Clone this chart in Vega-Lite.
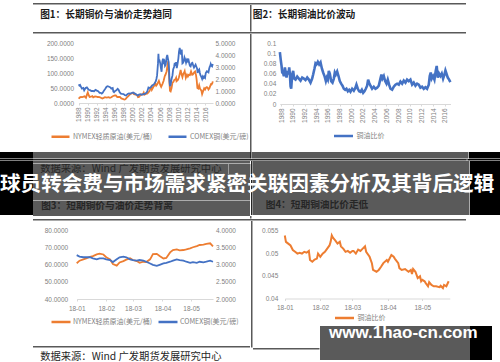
{
"$schema":"https://vega.github.io/schema/vega-lite/v6.json",
"background":"#ffffff",
"padding":0,
"data":{"values":[{}]},
"config":{"view":{"stroke":null},"concat":{"spacing":0},"font":"Noto Sans CJK SC","axis":{"labelOverlap":false}},
"spacing":0,
"resolve":{"scale":{"color":"independent"},"legend":{"color":"independent"}},
"vconcat":[
 {"width":500,"height":2.5,"mark":{"type":"text","text":"","fontSize":0,"clip":true}},
 {"spacing":0,"hconcat":[
  {"width":33,"height":1.5,"mark":{"type":"text","text":"","fontSize":0,"clip":true}},
  {"width":433,"height":1.5,"mark":{"type":"text","text":"","fontSize":0,"clip":true},"view":{"fill":"#595959"}},
  {"width":34,"height":1.5,"mark":{"type":"text","text":"","fontSize":0,"clip":true}}]},
 {"spacing":0,"hconcat":[
  {"width":33,"height":26.5,"mark":{"type":"text","text":"","fontSize":0,"clip":true}},
  {"spacing":0,"vconcat":[
   {"width":146,"height":20,"data":{"values":[{"label":"图1：长期铜价与油价走势趋同"}]},"mark":{"type":"text","baseline":"middle","fontSize":9.7,"fontWeight":"bold","color":"#1a1a1a","clip":true},"encoding":{"text":{"field":"label"}}},
   {"width":146,"height":6.5,"mark":{"type":"text","text":"","fontSize":0,"clip":true}}]},
  {"width":71,"height":26.5,"mark":{"type":"text","text":"","fontSize":0,"clip":true}},
  {"width":1.5,"height":26.5,"mark":{"type":"text","text":"","fontSize":0,"clip":true},"view":{"fill":"#595959"}},
  {"spacing":0,"vconcat":[
   {"width":104,"height":20,"data":{"values":[{"label":"图2：长期铜油比价波动"}]},"mark":{"type":"text","baseline":"middle","fontSize":9.7,"fontWeight":"bold","color":"#1a1a1a","clip":true},"encoding":{"text":{"field":"label"}}},
   {"width":104,"height":6.5,"mark":{"type":"text","text":"","fontSize":0,"clip":true}}]},
  {"width":144.5,"height":26.5,"mark":{"type":"text","text":"","fontSize":0,"clip":true}}]},
 {"spacing":0,"hconcat":[
  {"width":33,"height":1.5,"mark":{"type":"text","text":"","fontSize":0,"clip":true}},
  {"width":433,"height":1.5,"mark":{"type":"text","text":"","fontSize":0,"clip":true},"view":{"fill":"#595959"}},
  {"width":34,"height":1.5,"mark":{"type":"text","text":"","fontSize":0,"clip":true}}]},
 {"spacing":0,
  "resolve":{"scale":{"color":"independent"},"legend":{"color":"independent"}},
  "hconcat":[
  {"width":33,"height":118,"mark":{"type":"text","text":"","fontSize":0,"clip":true}},
  {"width":217,"height":118,
   "layer":[
    {"data":{"values":[{"t":1988.05,"v":14},{"t":1988.25,"v":18},{"t":1988.55,"v":20},{"t":1988.85,"v":19.5},{"t":1989.15,"v":21},{"t":1989.35,"v":22},{"t":1989.65,"v":17.5},{"t":1989.85,"v":27},{"t":1990.05,"v":35},{"t":1990.25,"v":26},{"t":1990.45,"v":20},{"t":1990.75,"v":21},{"t":1991.05,"v":23},{"t":1991.25,"v":19},{"t":1991.65,"v":22},{"t":1991.95,"v":21.5},{"t":1992.25,"v":20},{"t":1992.65,"v":19.5},{"t":1993.05,"v":16.5},{"t":1993.25,"v":15},{"t":1993.55,"v":17},{"t":1993.85,"v":19.5},{"t":1994.25,"v":18},{"t":1994.65,"v":19.5},{"t":1994.95,"v":17.5},{"t":1995.25,"v":19},{"t":1995.55,"v":22.5},{"t":1996.05,"v":25},{"t":1996.25,"v":25},{"t":1996.55,"v":20},{"t":1996.85,"v":20},{"t":1997.15,"v":20.5},{"t":1997.45,"v":15.5},{"t":1997.75,"v":14},{"t":1998.15,"v":11.5},{"t":1998.35,"v":12.5},{"t":1998.65,"v":18},{"t":1998.95,"v":22},{"t":1999.25,"v":27},{"t":1999.45,"v":30},{"t":1999.95,"v":33},{"t":2000.15,"v":34},{"t":2000.25,"v":29},{"t":2000.65,"v":28},{"t":2000.95,"v":26},{"t":2001.15,"v":19.5},{"t":2001.35,"v":20},{"t":2001.65,"v":26},{"t":2001.95,"v":28.5},{"t":2002.2,"v":29},{"t":2002.4,"v":35},{"t":2002.55,"v":28},{"t":2002.85,"v":30.5},{"t":2003.15,"v":31.5},{"t":2003.35,"v":34},{"t":2003.65,"v":39},{"t":2004.05,"v":53},{"t":2004.2,"v":44},{"t":2004.55,"v":54},{"t":2004.85,"v":60},{"t":2004.95,"v":65},{"t":2005.15,"v":58},{"t":2005.35,"v":62},{"t":2005.75,"v":74},{"t":2006.05,"v":60},{"t":2006.25,"v":54},{"t":2006.55,"v":64},{"t":2006.8,"v":74},{"t":2007.05,"v":90},{"t":2007.2,"v":94},{"t":2007.45,"v":105},{"t":2007.65,"v":125},{"t":2007.75,"v":134},{"t":2007.8,"v":140},{"t":2007.95,"v":104},{"t":2008.05,"v":76},{"t":2008.2,"v":41},{"t":2008.35,"v":39},{"t":2008.55,"v":50},{"t":2008.75,"v":68},{"t":2008.95,"v":70},{"t":2009.15,"v":77},{"t":2009.35,"v":78},{"t":2009.55,"v":84},{"t":2009.65,"v":73},{"t":2009.95,"v":77},{"t":2010.15,"v":84},{"t":2010.25,"v":90},{"t":2010.45,"v":103},{"t":2010.55,"v":110},{"t":2010.75,"v":96},{"t":2010.95,"v":86},{"t":2011.15,"v":98},{"t":2011.35,"v":102},{"t":2011.45,"v":106},{"t":2011.7,"v":84},{"t":2011.95,"v":94},{"t":2012.15,"v":88},{"t":2012.35,"v":94},{"t":2012.6,"v":93},{"t":2012.85,"v":105},{"t":2013.1,"v":94},{"t":2013.25,"v":95},{"t":2013.55,"v":102},{"t":2013.75,"v":105},{"t":2013.95,"v":93},{"t":2014.1,"v":76},{"t":2014.25,"v":50},{"t":2014.45,"v":48},{"t":2014.65,"v":59},{"t":2014.85,"v":47},{"t":2014.95,"v":45},{"t":2015.15,"v":41},{"t":2015.3,"v":30},{"t":2015.55,"v":41},{"t":2015.75,"v":49},{"t":2015.95,"v":45},{"t":2016.15,"v":51},{"t":2016.35,"v":53},{"t":2016.55,"v":50},{"t":2016.7,"v":45},{"t":2016.9,"v":49},{"t":2017.1,"v":57},{"t":2017.25,"v":63},{"t":2017.4,"v":62},{"t":2017.55,"v":66},{"t":2017.65,"v":72}]},
     "mark":{"type":"line","strokeWidth":1.8},
     "encoding":{
      "x":{"field":"t","type":"quantitative","scale":{"domain":[1988,2017.7],"range":[45.5,180],"nice":false,"zero":false},
       "axis":{"offset":-49,"values":[1988,1990,1992,1994,1996,1998,2000,2002,2004,2006,2008,2010,2012,2014,2016],"format":"d","labelAngle":270,"labelFontSize":6.5,"labelColor":"#7f7f7f","labelFont":"Liberation Sans","domainColor":"#d9d9d9","tickColor":"#d9d9d9","tickSize":2,"labelPadding":2,"grid":false,"title":null,"labelFlush":false,"labelOverlap":false}},
      "y":{"field":"v","type":"quantitative","scale":{"domain":[0,200],"range":[69,9],"nice":false},
       "axis":{"orient":"left","offset":-45.5,"values":[0,50,100,150,200],"format":".4f","domain":false,"ticks":false,"grid":false,"labelFontSize":6.5,"labelColor":"#7f7f7f","labelFont":"Liberation Sans","labelPadding":5,"title":null}},
      "color":{"datum":"NYMEX轻质原油(美元/桶)","scale":{"domain":["NYMEX轻质原油(美元/桶)","COMEX铜(美元/磅)"],"range":["#ED7D31","#4472C4"]},
       "legend":{"orient":"none","legendX":17,"legendY":92,"direction":"horizontal","columns":2,"title":null,"symbolType":"stroke","symbolSize":324,"symbolStrokeWidth":2.5,"labelFontSize":7,"labelColor":"#7f7f7f","columnPadding":10,"labelOffset":2,"labelLimit":200}}}},
    {"data":{"values":[{"t":1988.05,"v":1.55},{"t":1988.2,"v":1.45},{"t":1988.35,"v":1.5},{"t":1988.55,"v":1.35},{"t":1988.75,"v":1.2},{"t":1989.05,"v":1.25},{"t":1989.25,"v":1.05},{"t":1989.55,"v":1.25},{"t":1989.85,"v":1.3},{"t":1990.05,"v":1.2},{"t":1990.25,"v":1.1},{"t":1990.55,"v":1.07},{"t":1990.85,"v":1.0},{"t":1991.15,"v":1.0},{"t":1991.45,"v":0.98},{"t":1991.75,"v":1.1},{"t":1992.05,"v":1.03},{"t":1992.35,"v":0.98},{"t":1992.65,"v":0.85},{"t":1992.95,"v":0.85},{"t":1993.15,"v":0.78},{"t":1993.35,"v":0.85},{"t":1993.65,"v":1.05},{"t":1993.95,"v":1.2},{"t":1994.2,"v":1.35},{"t":1994.45,"v":1.4},{"t":1994.75,"v":1.35},{"t":1995.05,"v":1.3},{"t":1995.25,"v":1.2},{"t":1995.55,"v":1.25},{"t":1995.7,"v":0.95},{"t":1995.85,"v":0.9},{"t":1996.1,"v":1.0},{"t":1996.35,"v":1.05},{"t":1996.65,"v":1.18},{"t":1996.85,"v":1.1},{"t":1997.1,"v":0.9},{"t":1997.35,"v":0.78},{"t":1997.65,"v":0.76},{"t":1997.95,"v":0.75},{"t":1998.25,"v":0.66},{"t":1998.55,"v":0.63},{"t":1998.85,"v":0.75},{"t":1999.15,"v":0.8},{"t":1999.45,"v":0.78},{"t":1999.75,"v":0.83},{"t":2000.05,"v":0.88},{"t":2000.25,"v":0.82},{"t":2000.55,"v":0.76},{"t":2000.85,"v":0.68},{"t":2001.1,"v":0.62},{"t":2001.35,"v":0.7},{"t":2001.65,"v":0.74},{"t":2001.95,"v":0.68},{"t":2002.2,"v":0.72},{"t":2002.45,"v":0.75},{"t":2002.75,"v":0.77},{"t":2003.05,"v":0.88},{"t":2003.2,"v":0.98},{"t":2003.45,"v":1.3},{"t":2003.75,"v":1.25},{"t":2004.05,"v":1.35},{"t":2004.2,"v":1.42},{"t":2004.45,"v":1.5},{"t":2004.75,"v":1.6},{"t":2005.05,"v":1.8},{"t":2005.2,"v":2.0},{"t":2005.35,"v":2.3},{"t":2005.55,"v":3.3},{"t":2005.65,"v":4.1},{"t":2005.75,"v":3.4},{"t":2005.85,"v":3.6},{"t":2006.05,"v":3.3},{"t":2006.2,"v":2.9},{"t":2006.35,"v":2.6},{"t":2006.5,"v":3.4},{"t":2006.65,"v":3.7},{"t":2006.8,"v":3.4},{"t":2006.95,"v":3.5},{"t":2007.1,"v":3.1},{"t":2007.25,"v":3.2},{"t":2007.45,"v":3.8},{"t":2007.6,"v":4.0},{"t":2007.75,"v":3.7},{"t":2007.9,"v":3.4},{"t":2008.0,"v":2.8},{"t":2008.1,"v":1.8},{"t":2008.2,"v":1.4},{"t":2008.35,"v":1.55},{"t":2008.55,"v":2.0},{"t":2008.75,"v":2.3},{"t":2008.9,"v":2.8},{"t":2009.1,"v":3.0},{"t":2009.25,"v":3.35},{"t":2009.4,"v":3.1},{"t":2009.55,"v":3.4},{"t":2009.7,"v":2.9},{"t":2009.85,"v":3.2},{"t":2010.05,"v":3.7},{"t":2010.2,"v":4.3},{"t":2010.35,"v":4.6},{"t":2010.5,"v":4.2},{"t":2010.65,"v":4.05},{"t":2010.8,"v":4.45},{"t":2010.95,"v":3.3},{"t":2011.1,"v":3.35},{"t":2011.25,"v":3.5},{"t":2011.4,"v":3.8},{"t":2011.6,"v":3.6},{"t":2011.75,"v":3.35},{"t":2011.95,"v":3.6},{"t":2012.1,"v":3.5},{"t":2012.25,"v":3.7},{"t":2012.45,"v":3.3},{"t":2012.6,"v":3.1},{"t":2012.75,"v":3.05},{"t":2012.95,"v":3.3},{"t":2013.15,"v":3.35},{"t":2013.35,"v":3.1},{"t":2013.5,"v":2.95},{"t":2013.7,"v":3.1},{"t":2013.85,"v":3.2},{"t":2014.05,"v":3.0},{"t":2014.2,"v":2.85},{"t":2014.3,"v":2.5},{"t":2014.45,"v":2.7},{"t":2014.65,"v":2.8},{"t":2014.8,"v":2.5},{"t":2014.95,"v":2.3},{"t":2015.1,"v":2.2},{"t":2015.2,"v":2.1},{"t":2015.3,"v":2.0},{"t":2015.45,"v":2.2},{"t":2015.6,"v":2.1},{"t":2015.75,"v":2.2},{"t":2015.95,"v":2.1},{"t":2016.1,"v":2.5},{"t":2016.2,"v":2.55},{"t":2016.35,"v":2.65},{"t":2016.55,"v":2.6},{"t":2016.7,"v":2.55},{"t":2016.85,"v":2.85},{"t":2017.0,"v":3.05},{"t":2017.1,"v":3.1},{"t":2017.2,"v":3.25},{"t":2017.35,"v":3.1},{"t":2017.5,"v":3.05},{"t":2017.65,"v":3.25}]},
     "mark":{"type":"line","strokeWidth":1.8},
     "encoding":{
      "x":{"field":"t","type":"quantitative","axis":{"offset":-49,"values":[1988,1990,1992,1994,1996,1998,2000,2002,2004,2006,2008,2010,2012,2014,2016],"format":"d","labelAngle":270,"labelFontSize":6.5,"labelColor":"#7f7f7f","labelFont":"Liberation Sans","domainColor":"#d9d9d9","tickColor":"#d9d9d9","tickSize":2,"labelPadding":2,"grid":false,"title":null,"labelFlush":false,"labelOverlap":false}},
      "y":{"field":"v","type":"quantitative","scale":{"domain":[0,5],"range":[69,9],"nice":false},
       "axis":{"orient":"right","offset":-37,"values":[0,1,2,3,4,5],"format":".4f","domain":false,"ticks":false,"grid":false,"labelFontSize":6.5,"labelColor":"#7f7f7f","labelFont":"Liberation Sans","labelPadding":2,"title":null}},
      "color":{"datum":"COMEX铜(美元/磅)"}}}
   ],
   "resolve":{"scale":{"y":"independent"}}},
  {"width":1.5,"height":118,"mark":{"type":"text","text":"","fontSize":0,"clip":true},"view":{"fill":"#595959"}},
  {"width":214.5,"height":118,
   "data":{"values":[{"t":1987.77,"v":0.102},{"t":1987.94,"v":0.085},{"t":1988.06,"v":0.075},{"t":1988.17,"v":0.062},{"t":1988.34,"v":0.06},{"t":1988.46,"v":0.055},{"t":1988.63,"v":0.072},{"t":1988.8,"v":0.06},{"t":1988.91,"v":0.052},{"t":1989.08,"v":0.065},{"t":1989.25,"v":0.058},{"t":1989.37,"v":0.072},{"t":1989.48,"v":0.06},{"t":1989.6,"v":0.035},{"t":1989.71,"v":0.03},{"t":1989.88,"v":0.058},{"t":1990.05,"v":0.065},{"t":1990.22,"v":0.05},{"t":1990.45,"v":0.048},{"t":1990.74,"v":0.054},{"t":1991.02,"v":0.05},{"t":1991.31,"v":0.046},{"t":1991.59,"v":0.052},{"t":1991.88,"v":0.05},{"t":1992.16,"v":0.047},{"t":1992.45,"v":0.052},{"t":1992.73,"v":0.048},{"t":1993.02,"v":0.042},{"t":1993.3,"v":0.05},{"t":1993.47,"v":0.058},{"t":1993.7,"v":0.07},{"t":1993.87,"v":0.08},{"t":1994.04,"v":0.078},{"t":1994.27,"v":0.083},{"t":1994.5,"v":0.078},{"t":1994.73,"v":0.082},{"t":1994.96,"v":0.07},{"t":1995.18,"v":0.062},{"t":1995.41,"v":0.055},{"t":1995.64,"v":0.045},{"t":1995.81,"v":0.052},{"t":1995.98,"v":0.048},{"t":1996.15,"v":0.065},{"t":1996.32,"v":0.06},{"t":1996.55,"v":0.045},{"t":1996.78,"v":0.042},{"t":1997.01,"v":0.05},{"t":1997.18,"v":0.062},{"t":1997.35,"v":0.058},{"t":1997.58,"v":0.064},{"t":1997.81,"v":0.055},{"t":1998.03,"v":0.045},{"t":1998.26,"v":0.04},{"t":1998.49,"v":0.036},{"t":1998.72,"v":0.03},{"t":1998.95,"v":0.028},{"t":1999.17,"v":0.03},{"t":1999.4,"v":0.025},{"t":1999.63,"v":0.028},{"t":1999.86,"v":0.024},{"t":2000.14,"v":0.03},{"t":2000.43,"v":0.026},{"t":2000.71,"v":0.032},{"t":2000.88,"v":0.038},{"t":2001.11,"v":0.03},{"t":2001.34,"v":0.025},{"t":2001.57,"v":0.024},{"t":2001.8,"v":0.028},{"t":2002.03,"v":0.022},{"t":2002.25,"v":0.025},{"t":2002.48,"v":0.03},{"t":2002.71,"v":0.036},{"t":2002.88,"v":0.048},{"t":2003.05,"v":0.042},{"t":2003.28,"v":0.036},{"t":2003.56,"v":0.03},{"t":2003.85,"v":0.034},{"t":2004.13,"v":0.03},{"t":2004.42,"v":0.032},{"t":2004.7,"v":0.036},{"t":2004.99,"v":0.05},{"t":2005.16,"v":0.058},{"t":2005.33,"v":0.05},{"t":2005.56,"v":0.055},{"t":2005.79,"v":0.045},{"t":2006.02,"v":0.04},{"t":2006.24,"v":0.048},{"t":2006.47,"v":0.038},{"t":2006.7,"v":0.03},{"t":2006.99,"v":0.028},{"t":2007.27,"v":0.034},{"t":2007.56,"v":0.038},{"t":2007.84,"v":0.04},{"t":2008.13,"v":0.038},{"t":2008.41,"v":0.044},{"t":2008.7,"v":0.04},{"t":2008.98,"v":0.046},{"t":2009.27,"v":0.042},{"t":2009.55,"v":0.048},{"t":2009.84,"v":0.045},{"t":2010.12,"v":0.048},{"t":2010.41,"v":0.038},{"t":2010.69,"v":0.042},{"t":2010.98,"v":0.036},{"t":2011.26,"v":0.04},{"t":2011.55,"v":0.038},{"t":2011.83,"v":0.032},{"t":2012.12,"v":0.034},{"t":2012.4,"v":0.03},{"t":2012.69,"v":0.033},{"t":2012.97,"v":0.03},{"t":2013.26,"v":0.038},{"t":2013.43,"v":0.055},{"t":2013.6,"v":0.062},{"t":2013.77,"v":0.05},{"t":2014.0,"v":0.055},{"t":2014.23,"v":0.048},{"t":2014.45,"v":0.065},{"t":2014.62,"v":0.075},{"t":2014.8,"v":0.052},{"t":2015.02,"v":0.06},{"t":2015.25,"v":0.055},{"t":2015.48,"v":0.06},{"t":2015.71,"v":0.05},{"t":2015.94,"v":0.058},{"t":2016.11,"v":0.066},{"t":2016.28,"v":0.06},{"t":2016.51,"v":0.052},{"t":2016.74,"v":0.048},{"t":2016.96,"v":0.043}]},
   "mark":{"type":"line","strokeWidth":2.6},
   "encoding":{
    "x":{"field":"t","type":"quantitative","scale":{"domain":[1987.76,2016.98],"range":[27.8,198.5],"nice":false,"zero":false},
     "axis":{"offset":-48,"values":[1988,1990,1992,1994,1996,1998,2000,2002,2004,2006,2008,2010,2012,2014,2016],"format":"d","labelAngle":270,"labelFontSize":6.5,"labelColor":"#7f7f7f","labelFont":"Liberation Sans","domainColor":"#d9d9d9","tickColor":"#d9d9d9","tickSize":2,"labelPadding":2,"grid":false,"title":null,"labelFlush":false,"labelOverlap":false}},
    "y":{"field":"v","type":"quantitative","scale":{"domain":[0,0.12],"range":[70,9],"nice":false},
     "axis":{"offset":-27.8,"values":[0,0.02,0.04,0.06,0.08,0.1,0.12],"format":"~g","domain":false,"ticks":false,"grid":false,"labelFontSize":6.5,"labelColor":"#7f7f7f","labelFont":"Liberation Sans","labelPadding":4,"title":null}},
    "color":{"datum":"铜油比价","scale":{"domain":["铜油比价"],"range":["#4472C4"]},
     "legend":{"orient":"none","legendX":80.5,"legendY":91,"direction":"horizontal","title":null,"symbolType":"stroke","symbolSize":361,"symbolStrokeWidth":2.5,"labelFontSize":7,"labelColor":"#7f7f7f","labelOffset":2}}}},
  {"width":34,"height":118,"mark":{"type":"text","text":"","fontSize":0,"clip":true}}]},
 {"spacing":0,
  "title":{"text":"球员转会费与市场需求紧密关联因素分析及其背后逻辑","anchor":"start","frame":"group","orient":"top","offset":-60,"baseline":"alphabetic","color":"#ffffff","fontSize":20.6,"fontWeight":"bold","font":"Noto Sans CJK SC"},
  "vconcat":[
  {"spacing":0,"hconcat":[
   {"width":33,"height":6.5,"mark":{"type":"text","text":"","fontSize":0,"clip":true},"view":{"fill":"#000000"}},
   {"width":217,"height":6.5,"mark":{"type":"text","text":"","fontSize":0,"clip":true},"view":{"fill":"#5a5a5a"}},
   {"width":1.5,"height":6.5,"mark":{"type":"text","text":"","fontSize":0,"clip":true},"view":{"fill":"#262626"}},
   {"width":216.5,"height":6.5,"mark":{"type":"text","text":"","fontSize":0,"clip":true},"view":{"fill":"#5a5a5a"}},
   {"width":32,"height":6.5,"mark":{"type":"text","text":"","fontSize":0,"clip":true},"view":{"fill":"#000000"}}]},
  {"spacing":0,"hconcat":[
   {"width":33,"height":1.5,"mark":{"type":"text","text":"","fontSize":0,"clip":true},"view":{"fill":"#000000"}},
   {"width":433,"height":1.5,"mark":{"type":"text","text":"","fontSize":0,"clip":true},"view":{"fill":"#262626"}},
   {"width":2,"height":1.5,"mark":{"type":"text","text":"","fontSize":0,"clip":true},"view":{"fill":"#5a5a5a"}},
   {"width":32,"height":1.5,"mark":{"type":"text","text":"","fontSize":0,"clip":true},"view":{"fill":"#000000"}}]},
  {"spacing":0,"hconcat":[
   {"width":33,"height":54,"mark":{"type":"text","text":"","fontSize":0,"clip":true},"view":{"fill":"#000000"}},
   {"spacing":0,"vconcat":[
    {"width":217,"height":2.5,"mark":{"type":"text","text":"","fontSize":0,"clip":true},"view":{"fill":"#5a5a5a"}},
    {"spacing":0,"hconcat":[
     {"width":195.6,"height":10,"view":{"fill":"#5a5a5a"},"data":{"values":[{"label":"数据来源：Wind 广发期货发展研究中心"}]},"mark":{"type":"text","baseline":"middle","fontSize":10.3,"color":"#262626","clip":true},"encoding":{"text":{"field":"label"}}},
     {"width":21.4,"height":10,"mark":{"type":"text","text":"","fontSize":0,"clip":true},"view":{"fill":"#5a5a5a"}}]},
    {"width":217,"height":26.5,"mark":{"type":"text","text":"","fontSize":0,"clip":true},"view":{"fill":"#5a5a5a"}},
    {"spacing":0,"hconcat":[
     {"width":148,"height":10,"view":{"fill":"#5a5a5a"},"data":{"values":[{"label":"图3：短期铜价与油价走势背离"}]},"mark":{"type":"text","baseline":"middle","fontSize":9.7,"fontWeight":"bold","color":"#262626","clip":true},"encoding":{"text":{"field":"label"}}},
     {"width":69,"height":10,"mark":{"type":"text","text":"","fontSize":0,"clip":true},"view":{"fill":"#5a5a5a"}}]},
    {"width":217,"height":5,"mark":{"type":"text","text":"","fontSize":0,"clip":true},"view":{"fill":"#5a5a5a"}}]},
   {"width":1.5,"height":54,"mark":{"type":"text","text":"","fontSize":0,"clip":true},"view":{"fill":"#262626"}},
   {"spacing":0,"vconcat":[
    {"width":216.5,"height":39,"mark":{"type":"text","text":"","fontSize":0,"clip":true},"view":{"fill":"#5a5a5a"}},
    {"spacing":0,"hconcat":[
     {"width":128,"height":10,"view":{"fill":"#5a5a5a"},"data":{"values":[{"label":"图4：短期铜油比价走低"}]},"mark":{"type":"text","baseline":"middle","fontSize":9.7,"fontWeight":"bold","color":"#262626","clip":true},"encoding":{"text":{"field":"label"}}},
     {"width":88.5,"height":10,"mark":{"type":"text","text":"","fontSize":0,"clip":true},"view":{"fill":"#5a5a5a"}}]},
    {"width":216.5,"height":5,"mark":{"type":"text","text":"","fontSize":0,"clip":true},"view":{"fill":"#5a5a5a"}}]},
   {"width":32,"height":54,"mark":{"type":"text","text":"","fontSize":0,"clip":true},"view":{"fill":"#000000"}}]}
 ]},
 {"spacing":0,"hconcat":[
  {"width":250,"height":2.5,"mark":{"type":"text","text":"","fontSize":0,"clip":true}},
  {"width":1.5,"height":2.5,"mark":{"type":"text","text":"","fontSize":0,"clip":true},"view":{"fill":"#595959"}},
  {"width":248.5,"height":2.5,"mark":{"type":"text","text":"","fontSize":0,"clip":true}}]},
 {"spacing":0,"hconcat":[
  {"width":33,"height":1.5,"mark":{"type":"text","text":"","fontSize":0,"clip":true}},
  {"width":433,"height":1.5,"mark":{"type":"text","text":"","fontSize":0,"clip":true},"view":{"fill":"#595959"}},
  {"width":34,"height":1.5,"mark":{"type":"text","text":"","fontSize":0,"clip":true}}]},
 {"spacing":0,
  "resolve":{"scale":{"color":"independent"},"legend":{"color":"independent"}},
  "hconcat":[
  {"width":33,"height":146,"mark":{"type":"text","text":"","fontSize":0,"clip":true}},
  {"spacing":0,"vconcat":[
   {"width":217,"height":125,
    "data":{"values":[{"d":"2018-01-01","oil":60.7,"cu":3.27},{"d":"2018-01-04","oil":62.2,"cu":3.23},{"d":"2018-01-08","oil":63.0,"cu":3.21},{"d":"2018-01-11","oil":63.6,"cu":3.21},{"d":"2018-01-15","oil":64.5,"cu":3.21},{"d":"2018-01-18","oil":64.9,"cu":3.18},{"d":"2018-01-22","oil":65.9,"cu":3.15},{"d":"2018-01-25","oil":66.3,"cu":3.18},{"d":"2018-01-29","oil":65.8,"cu":3.18},{"d":"2018-02-01","oil":64.2,"cu":3.15},{"d":"2018-02-05","oil":63.0,"cu":3.13},{"d":"2018-02-08","oil":60.2,"cu":3.07},{"d":"2018-02-12","oil":59.3,"cu":3.15},{"d":"2018-02-15","oil":61.2,"cu":3.21},{"d":"2018-02-19","oil":62.0,"cu":3.23},{"d":"2018-02-22","oil":62.8,"cu":3.21},{"d":"2018-02-26","oil":63.6,"cu":3.15},{"d":"2018-03-01","oil":62.6,"cu":3.13},{"d":"2018-03-05","oil":62.0,"cu":3.11},{"d":"2018-03-08","oil":61.0,"cu":3.13},{"d":"2018-03-12","oil":61.6,"cu":3.11},{"d":"2018-03-15","oil":61.4,"cu":3.08},{"d":"2018-03-19","oil":63.0,"cu":3.03},{"d":"2018-03-22","oil":66.0,"cu":2.99},{"d":"2018-03-26","oil":66.2,"cu":2.96},{"d":"2018-03-29","oil":64.9,"cu":2.99},{"d":"2018-04-02","oil":63.5,"cu":3.03},{"d":"2018-04-05","oil":63.8,"cu":3.05},{"d":"2018-04-09","oil":67.0,"cu":3.08},{"d":"2018-04-12","oil":68.4,"cu":3.11},{"d":"2018-04-16","oil":68.8,"cu":3.15},{"d":"2018-04-19","oil":68.2,"cu":3.13},{"d":"2018-04-23","oil":68.4,"cu":3.11},{"d":"2018-04-26","oil":68.8,"cu":3.08},{"d":"2018-04-30","oil":69.4,"cu":3.05},{"d":"2018-05-03","oil":70.0,"cu":3.07},{"d":"2018-05-07","oil":70.7,"cu":3.05},{"d":"2018-05-10","oil":71.3,"cu":3.08},{"d":"2018-05-14","oil":71.5,"cu":3.06},{"d":"2018-05-17","oil":71.9,"cu":3.08},{"d":"2018-05-21","oil":72.3,"cu":3.11},{"d":"2018-05-24","oil":70.5,"cu":3.08}]},
    "layer":[
     {"mark":{"type":"line","strokeWidth":1.8},
      "encoding":{
       "x":{"field":"d","type":"temporal","scale":{"type":"utc","domain":[{"year":2018,"month":1,"date":1,"utc":true},{"year":2018,"month":5,"date":24,"utc":true}],"range":[43.7,180],"nice":false},
        "axis":{"offset":-47,"values":[{"year":2018,"month":1,"date":1,"utc":true},{"year":2018,"month":2,"date":1,"utc":true},{"year":2018,"month":3,"date":1,"utc":true},{"year":2018,"month":4,"date":1,"utc":true},{"year":2018,"month":5,"date":1,"utc":true}],"format":"%y-%m","labelFontSize":6.5,"labelColor":"#7f7f7f","labelFont":"Liberation Sans","domainColor":"#d9d9d9","tickColor":"#d9d9d9","tickSize":2,"labelPadding":4,"grid":false,"title":null,"labelFlush":false,"labelOverlap":false}},
       "y":{"field":"oil","type":"quantitative","scale":{"domain":[40,80],"range":[78,9],"nice":false,"zero":false},
        "axis":{"orient":"left","offset":-43.7,"values":[40,50,60,70,80],"format":".4f","domain":false,"ticks":false,"grid":false,"labelFontSize":6.5,"labelColor":"#7f7f7f","labelFont":"Liberation Sans","labelPadding":9,"title":null}},
       "color":{"datum":"NYMEX轻质原油(美元/桶)","scale":{"domain":["NYMEX轻质原油(美元/桶)","COMEX铜(美元/磅)"],"range":["#ED7D31","#4472C4"]},
        "legend":{"orient":"none","legendX":17,"legendY":90,"direction":"horizontal","columns":2,"title":null,"symbolType":"stroke","symbolSize":361,"symbolStrokeWidth":2.5,"labelFontSize":7,"labelColor":"#7f7f7f","columnPadding":0,"labelOffset":1,"labelLimit":200}}}},
     {"mark":{"type":"line","strokeWidth":1.8},
      "encoding":{
       "x":{"field":"d","type":"temporal"},
       "y":{"field":"cu","type":"quantitative","scale":{"domain":[2,4],"range":[78,9],"nice":false,"zero":false},
        "axis":{"orient":"right","offset":-37,"values":[2,2.5,3,3.5,4],"format":".4f","domain":false,"ticks":false,"grid":false,"labelFontSize":6.5,"labelColor":"#7f7f7f","labelFont":"Liberation Sans","labelPadding":2.5,"title":null}},
       "color":{"datum":"COMEX铜(美元/磅)"}}}
    ],
    "resolve":{"scale":{"y":"independent"}}},
   {"width":217,"height":1.5,"mark":{"type":"text","text":"","fontSize":0,"clip":true},"view":{"fill":"#595959"}},
   {"width":217,"height":2.5,"mark":{"type":"text","text":"","fontSize":0,"clip":true}},
   {"spacing":0,"hconcat":[
    {"width":195.6,"height":12,"data":{"values":[{"label":"数据来源：Wind 广发期货发展研究中心"}]},"mark":{"type":"text","baseline":"middle","fontSize":10.3,"color":"#262626","clip":true},"encoding":{"text":{"field":"label"}}},
    {"width":21.4,"height":12,"mark":{"type":"text","text":"","fontSize":0,"clip":true}}]},
   {"width":217,"height":5,"mark":{"type":"text","text":"","fontSize":0,"clip":true}}]},
  {"spacing":0,"vconcat":[
   {"width":1.5,"height":126.5,"mark":{"type":"text","text":"","fontSize":0,"clip":true},"view":{"fill":"#595959"}},
   {"width":1.5,"height":19.5,"mark":{"type":"text","text":"","fontSize":0,"clip":true}}]},
  {"spacing":0,"vconcat":[
   {"spacing":0,"hconcat":[
    {"width":214.5,"height":103,
     "data":{"values":[{"d":"2018-01-01","r":0.0539},{"d":"2018-01-02","r":0.0525},{"d":"2018-01-04","r":0.0521},{"d":"2018-01-06","r":0.0517},{"d":"2018-01-08","r":0.0507},{"d":"2018-01-10","r":0.0503},{"d":"2018-01-12","r":0.0499},{"d":"2018-01-14","r":0.0501},{"d":"2018-01-16","r":0.0499},{"d":"2018-01-18","r":0.0503},{"d":"2018-01-20","r":0.0501},{"d":"2018-01-22","r":0.0505},{"d":"2018-01-23","r":0.0485},{"d":"2018-01-25","r":0.0481},{"d":"2018-01-27","r":0.0486},{"d":"2018-01-29","r":0.0488},{"d":"2018-01-30","r":0.0499},{"d":"2018-02-01","r":0.0492},{"d":"2018-02-03","r":0.0499},{"d":"2018-02-05","r":0.0503},{"d":"2018-02-07","r":0.051},{"d":"2018-02-09","r":0.0517},{"d":"2018-02-10","r":0.0525},{"d":"2018-02-11","r":0.0539},{"d":"2018-02-12","r":0.0534},{"d":"2018-02-14","r":0.0528},{"d":"2018-02-16","r":0.0521},{"d":"2018-02-18","r":0.0525},{"d":"2018-02-19","r":0.0515},{"d":"2018-02-21","r":0.051},{"d":"2018-02-23","r":0.0503},{"d":"2018-02-25","r":0.0505},{"d":"2018-02-27","r":0.0501},{"d":"2018-03-01","r":0.0505},{"d":"2018-03-02","r":0.0505},{"d":"2018-03-04","r":0.0499},{"d":"2018-03-06","r":0.0508},{"d":"2018-03-08","r":0.0505},{"d":"2018-03-10","r":0.051},{"d":"2018-03-12","r":0.0515},{"d":"2018-03-13","r":0.0503},{"d":"2018-03-16","r":0.0492},{"d":"2018-03-18","r":0.0478},{"d":"2018-03-19","r":0.0463},{"d":"2018-03-22","r":0.0459},{"d":"2018-03-24","r":0.0463},{"d":"2018-03-26","r":0.047},{"d":"2018-03-28","r":0.0478},{"d":"2018-03-31","r":0.0485},{"d":"2018-04-01","r":0.0481},{"d":"2018-04-04","r":0.0496},{"d":"2018-04-06","r":0.0492},{"d":"2018-04-07","r":0.0488},{"d":"2018-04-10","r":0.0478},{"d":"2018-04-11","r":0.0467},{"d":"2018-04-13","r":0.0463},{"d":"2018-04-16","r":0.0465},{"d":"2018-04-17","r":0.0463},{"d":"2018-04-19","r":0.0459},{"d":"2018-04-21","r":0.0463},{"d":"2018-04-22","r":0.0454},{"d":"2018-04-23","r":0.0465},{"d":"2018-04-25","r":0.0459},{"d":"2018-04-26","r":0.0452},{"d":"2018-04-27","r":0.0445},{"d":"2018-04-29","r":0.0449},{"d":"2018-04-30","r":0.0438},{"d":"2018-05-01","r":0.0441},{"d":"2018-05-03","r":0.0438},{"d":"2018-05-04","r":0.0434},{"d":"2018-05-06","r":0.0427},{"d":"2018-05-07","r":0.0436},{"d":"2018-05-09","r":0.043},{"d":"2018-05-11","r":0.0427},{"d":"2018-05-13","r":0.0427},{"d":"2018-05-16","r":0.0425},{"d":"2018-05-17","r":0.0428},{"d":"2018-05-19","r":0.0423},{"d":"2018-05-20","r":0.043},{"d":"2018-05-22","r":0.0427},{"d":"2018-05-24","r":0.0438}]},
     "mark":{"type":"line","strokeWidth":2},
     "encoding":{
      "x":{"field":"d","type":"temporal","scale":{"type":"utc","domain":[{"year":2018,"month":1,"date":1,"utc":true},{"year":2018,"month":5,"date":25,"utc":true}],"range":[31.8,196.8],"nice":false},
       "axis":{"offset":-25.5,"values":[{"year":2018,"month":1,"date":1,"utc":true},{"year":2018,"month":2,"date":1,"utc":true},{"year":2018,"month":3,"date":1,"utc":true},{"year":2018,"month":4,"date":1,"utc":true},{"year":2018,"month":5,"date":1,"utc":true}],"format":"%y-%m","labelFontSize":6.5,"labelColor":"#7f7f7f","labelFont":"Liberation Sans","domainColor":"#d9d9d9","tickColor":"#d9d9d9","tickSize":2,"labelPadding":4,"grid":false,"title":null,"labelFlush":false,"labelOverlap":false}},
      "y":{"field":"r","type":"quantitative","scale":{"domain":[0.04,0.055],"range":[77.5,9.5],"nice":false,"zero":false},
       "axis":{"offset":-31.8,"values":[0.04,0.045,0.05,0.055],"format":"~g","domain":false,"ticks":false,"grid":false,"labelFontSize":6.5,"labelColor":"#7f7f7f","labelFont":"Liberation Sans","labelPadding":7,"title":null}},
      "color":{"datum":"铜油比价","scale":{"domain":["铜油比价"],"range":["#ED7D31"]},
       "legend":{"orient":"none","legendX":80.5,"legendY":86,"direction":"horizontal","title":null,"symbolType":"stroke","symbolSize":361,"symbolStrokeWidth":2.5,"labelFontSize":7,"labelColor":"#7f7f7f","labelOffset":2}}}},
    {"width":34,"height":103,"mark":{"type":"text","text":"","fontSize":0,"clip":true}}]},
   {"spacing":0,"hconcat":[
    {"spacing":0,"vconcat":[
     {"width":66.5,"height":22,"mark":{"type":"text","text":"","fontSize":0,"clip":true}},
     {"width":66.5,"height":1.5,"mark":{"type":"text","text":"","fontSize":0,"clip":true},"view":{"fill":"#595959"}},
     {"width":66.5,"height":19.5,"mark":{"type":"text","text":"","fontSize":0,"clip":true}}]},
    {"spacing":0,"vconcat":[
     {"spacing":0,"hconcat":[
      {"width":9,"height":34,"mark":{"type":"text","text":"","fontSize":0,"clip":true},"view":{"fill":"#5a5a5a"}},
      {"spacing":0,
       "title":{"text":"www.1hao-cn.com","anchor":"start","frame":"group","orient":"top","offset":-29,"baseline":"alphabetic","color":"#ffffff","fontSize":17,"fontWeight":"bold","font":"Liberation Sans"},
       "hconcat":[
        {"width":141,"height":34,"mark":{"type":"text","text":"","fontSize":0,"clip":true},"view":{"fill":"#5a5a5a"}},
        {"width":22,"height":34,"mark":{"type":"text","text":"","fontSize":0,"clip":true},"view":{"fill":"#000000"}}]}]},
     {"width":172,"height":9,"mark":{"type":"text","text":"","fontSize":0,"clip":true}}]},
    {"width":10,"height":43,"mark":{"type":"text","text":"","fontSize":0,"clip":true}}]}]}]}
]
}
